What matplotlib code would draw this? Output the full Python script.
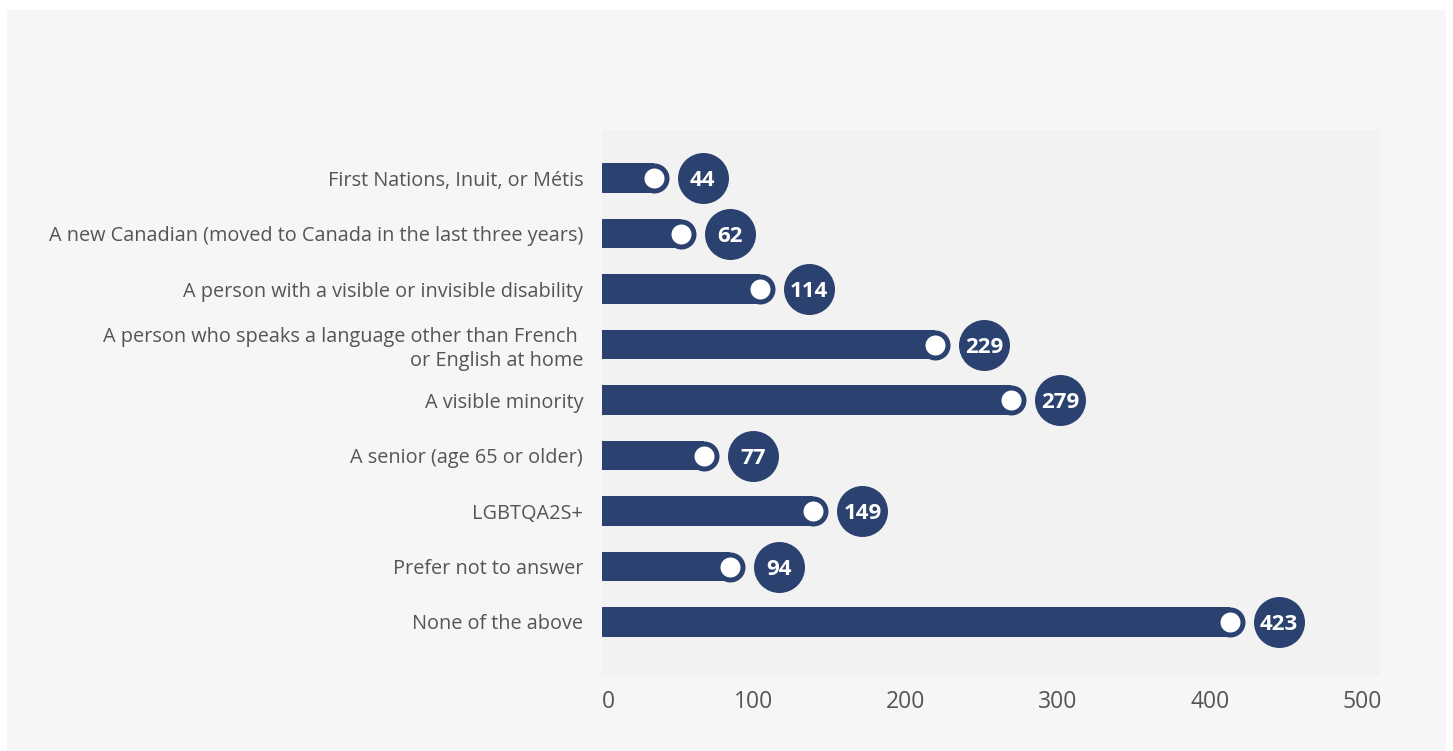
import numpy as np
import matplotlib
matplotlib.use("Agg")
import matplotlib.pyplot as plt
from matplotlib.patches import Rectangle

plt.rcParams["font.family"] = ["Open Sans", "Noto Sans", "DejaVu Sans"]

# data
categories = [
    "First Nations, Inuit, or Métis",
    "A new Canadian (moved to Canada in the last three years)",
    "A person with a visible or invisible disability",
    "A person who speaks a language other than French \nor English at home",
    "A visible minority",
    "A senior (age 65 or older)",
    "LGBTQA2S+",
    "Prefer not to answer",
    "None of the above",
]
counts = [44, 62, 114, 229, 279, 77, 149, 94, 423]
xticks = [0, 100, 200, 300, 400, 500]

navy = "#2b4170"
text_col = "#555555"

W, H, DPI = 1453, 751, 100
fig = plt.figure(figsize=(W / DPI, H / DPI), dpi=DPI, facecolor="white")
fig.patches.append(Rectangle((7 / W, 0), (1446 - 7) / W, (751 - 10) / H,
                             transform=fig.transFigure, facecolor="#f6f6f6",
                             edgecolor="none", zorder=-10))

ax_l, ax_r, ax_t, ax_b = 602, 1380, 130, 676
ax = fig.add_axes([ax_l / W, 1 - ax_b / H, (ax_r - ax_l) / W, (ax_b - ax_t) / H])
ax.set_facecolor("#f2f2f2")

xmax = 512
ax.set_xlim(0, xmax)
ax.set_ylim(8.973, -0.865)
px_per_unit = (ax_r - ax_l) / xmax

y = np.arange(len(categories))
bar_h = 0.54
cap_r = 15 / px_per_unit  # rounded end radius in data units
vals = np.array(counts, dtype=float)

ax.barh(y, vals - cap_r, height=bar_h, color=navy, zorder=2)
# round caps, white dots, value bubbles
pt = 72 / DPI
ax.scatter(vals - cap_r, y, s=(30 * pt) ** 2, color=navy, zorder=3, linewidths=0)
ax.scatter(vals - cap_r, y, s=(20 * pt) ** 2, color="white", zorder=4, linewidths=0)
bub_x = vals + 34 / px_per_unit
ax.scatter(bub_x, y, s=(51 * pt) ** 2, color=navy, zorder=5, linewidths=0, clip_on=False)
for bx, yy, c in zip(bub_x, y, counts):
    ax.text(bx, yy, str(c), color="white", fontsize=16, fontweight="bold",
            ha="center", va="center_baseline", zorder=6)

ax.set_yticks(y)
ax.set_yticklabels(categories, fontsize=14.3, color=text_col, linespacing=1.25)
for lab in ax.get_yticklabels():
    lab.set_multialignment("right")
ax.set_xticks(xticks)
ax.set_xticklabels([str(t) for t in xticks], fontsize=16.5, color=text_col)
ax.get_xticklabels()[0].set_horizontalalignment("left")
ax.tick_params(axis="both", length=0)
ax.tick_params(axis="y", pad=13.5)
ax.tick_params(axis="x", pad=10)
for s in ax.spines.values():
    s.set_visible(False)

fig.savefig("out.png", dpi=DPI, facecolor=fig.get_facecolor())
